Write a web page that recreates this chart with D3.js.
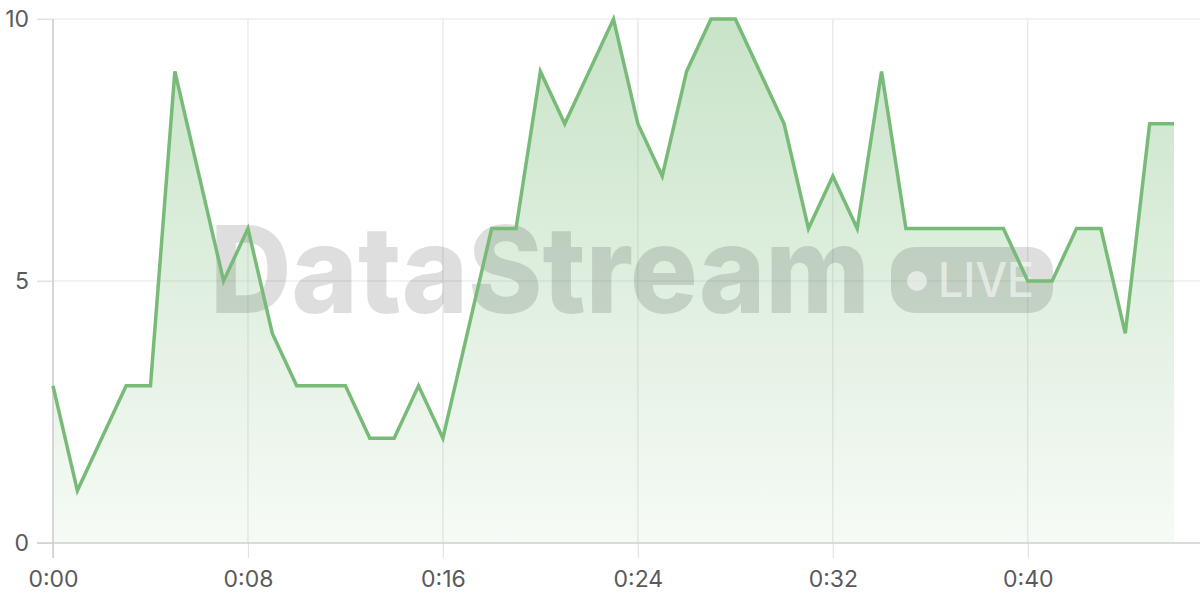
<!DOCTYPE html>
<html><head><meta charset="utf-8">
<script src="https://cdn.jsdelivr.net/npm/d3@7"></script>
<style>html,body{margin:0;padding:0;background:#fff;}svg{display:block;}</style>
</head><body>
<svg id="c" width="1200" height="600"></svg>
<script>
const seconds = d3.range(0, 47);
const values = [3,1,2,3,3,9,7,5,6,4,3,3,3,2,2,3,2,4,6,6,9,8,9,10,8,7,9,10,10,9,8,6,7,6,9,6,6,6,6,6,5,5,6,6,4,8,8];
const xTicks = [0,8,16,24,32,40];
const yTicks = [0,5,10];
const fmt = s => Math.floor(s/60) + ":" + String(s%60).padStart(2,"0");

const svg = d3.select("#c");
const L = 53, R = 1174, T = 19, B = 543;
const x = d3.scaleLinear().domain([0,46]).range([L,R]);
const y = d3.scaleLinear().domain([0,10]).range([B,T]);

const defs = svg.append("defs");
const g = defs.append("linearGradient").attr("id","ag")
  .attr("gradientUnits","userSpaceOnUse").attr("y1",T).attr("y2",B).attr("x1",0).attr("x2",0);
g.append("stop").attr("offset","0%").attr("stop-color","#7dbd7d").attr("stop-opacity",0.42);
g.append("stop").attr("offset","100%").attr("stop-color","#7dbd7d").attr("stop-opacity",0.07);

// grid
svg.append("g").selectAll("line").data(xTicks).join("line")
  .attr("x1",d=>x(d)).attr("x2",d=>x(d)).attr("y1",T).attr("y2",B)
  .attr("stroke","#e6e6e6").attr("stroke-width",1.2);
svg.append("g").selectAll("line").data(yTicks.filter(d=>d>0)).join("line")
  .attr("x1",37).attr("x2",1200).attr("y1",d=>y(d)).attr("y2",d=>y(d))
  .attr("stroke","#e6e6e6").attr("stroke-width",1.2);

// area
svg.append("path").datum(values)
  .attr("d", d3.area().x((d,i)=>x(seconds[i])).y0(y(0)).y1(d=>y(d)))
  .attr("fill","url(#ag)");

// watermark
const wm = svg.append("g");
wm.append("text").attr("x",210).attr("y",313).text("DataStream")
  .attr("font-family","Inter, 'DejaVu Sans', sans-serif").attr("font-weight",800)
  .attr("font-size",121).attr("textLength",660).attr("lengthAdjust","spacingAndGlyphs")
  .attr("fill","#000").attr("fill-opacity",0.13);
wm.append("rect").attr("x",891).attr("y",247).attr("width",162).attr("height",66).attr("rx",24)
  .attr("fill","#000").attr("fill-opacity",0.13);
wm.append("circle").attr("cx",917).attr("cy",281).attr("r",10).attr("fill","#fff").attr("fill-opacity",0.55);
wm.append("text").attr("x",938).attr("y",297).text("LIVE")
  .attr("font-family","Inter, 'DejaVu Sans', sans-serif").attr("font-weight",500)
  .attr("font-size",48).attr("textLength",96).attr("lengthAdjust","spacingAndGlyphs")
  .attr("fill","#fff").attr("fill-opacity",0.55);

// axes
const xAxis = svg.append("g").attr("transform",`translate(0,${B})`)
  .call(d3.axisBottom(x).tickValues(xTicks).tickFormat(fmt).tickSize(15).tickPadding(13));
const yAxis = svg.append("g").attr("transform",`translate(${L},0)`)
  .call(d3.axisLeft(y).tickValues(yTicks).tickSize(16).tickPadding(8));
[xAxis,yAxis].forEach(a=>{
  a.select(".domain").remove();
  a.selectAll(".tick line").attr("stroke","#e3e3e3").attr("stroke-width",1.2);
  a.selectAll("text").attr("fill","#5a5a5a").attr("font-size",23)
    .attr("font-family","Inter, Lato, sans-serif");
});
svg.append("line").attr("x1",37).attr("x2",1200).attr("y1",B).attr("y2",B).attr("stroke","#cfcfcf").attr("stroke-width",1.5);
svg.append("line").attr("x1",L).attr("x2",L).attr("y1",T).attr("y2",558).attr("stroke","#cfcfcf").attr("stroke-width",1.5);

// line
svg.append("path").datum(values)
  .attr("d", d3.line().x((d,i)=>x(seconds[i])).y(d=>y(d)))
  .attr("fill","none").attr("stroke","#78bb78").attr("stroke-width",3.5).attr("stroke-linejoin","miter");
</script>
</body></html>
